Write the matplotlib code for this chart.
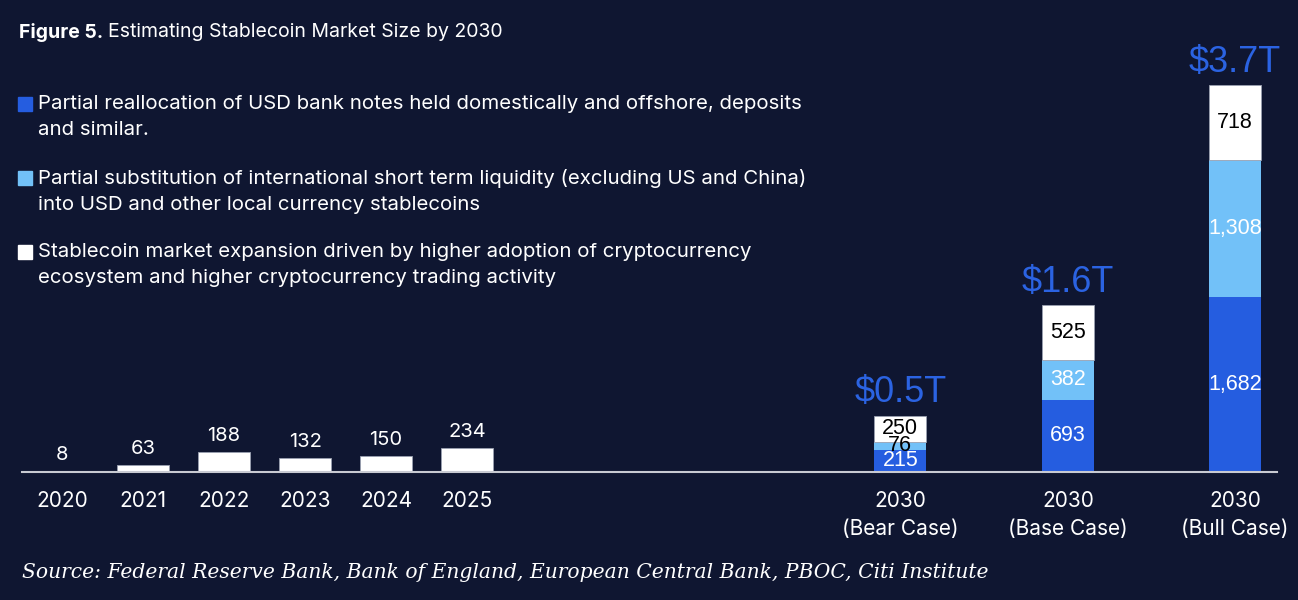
import numpy as np
import matplotlib.pyplot as plt
from matplotlib.patches import Rectangle

# historical stablecoin market size ($bn)
years = ['2020', '2021', '2022', '2023', '2024', '2025']
hist_values = [8, 63, 188, 132, 150, 234]

# 2030 scenarios ($bn)
cases = ['2030\n(Bear Case)', '2030\n(Base Case)', '2030\n(Bull Case)']
bank_notes = [215, 693, 1682]
short_term = [76, 382, 1308]
crypto_exp = [250, 525, 718]
totals = ['$0.5T', '$1.6T', '$3.7T']

legend_labels = [
    'Partial reallocation of USD bank notes held domestically and offshore, deposits\nand similar.',
    'Partial substitution of international short term liquidity (excluding US and China)\ninto USD and other local currency stablecoins',
    'Stablecoin market expansion driven by higher adoption of cryptocurrency\necosystem and higher cryptocurrency trading activity',
]

BG = '#0f1631'
DARK = '#255de0'
LIGHT = '#72c1f8'
WHITE = '#ffffff'
TOTAL_C = '#2b63e2'
SANS = 'Inter'
NUM = 'Liberation Sans'

fig = plt.figure(figsize=(12.98, 6.0), dpi=100, facecolor=BG)
ax = fig.add_axes([22 / 1298, 128 / 600, 1255 / 1298, 417 / 600])
ax.set_facecolor(BG)

x_hist = np.arange(len(years))
x_case = np.array([10.35, 12.42, 14.48])
w = 0.64

b = ax.bar(x_hist, hist_values, w, color=WHITE, edgecolor='#9aa0b0', linewidth=0.6)
for rect, v in zip(b, hist_values):
    ax.annotate(str(v), (rect.get_x() + rect.get_width() / 2, rect.get_height()),
                xytext=(0, 5), textcoords='offset points', ha='center', va='bottom',
                color='white', fontsize=14.5, family=SANS)

b1 = ax.bar(x_case, bank_notes, w, color=DARK)
b2 = ax.bar(x_case, short_term, w, bottom=bank_notes, color=LIGHT)
bottom3 = np.array(bank_notes) + np.array(short_term)
b3 = ax.bar(x_case, crypto_exp, w, bottom=bottom3, color=WHITE, edgecolor='#9aa0b0', linewidth=0.6)

for i, xc in enumerate(x_case):
    segs = [(bank_notes[i], 0, 'white'),
            (short_term[i], bank_notes[i], 'black' if i == 0 else 'white'),
            (crypto_exp[i], bottom3[i], 'black')]
    for val, base, col in segs:
        ax.text(xc, base + val / 2, f'{val:,}', ha='center', va='center',
                color=col, fontsize=15.5, family=NUM)
    top = bottom3[i] + crypto_exp[i]
    ax.annotate(totals[i], (xc, top), xytext=(0, 4), textcoords='offset points',
                ha='center', va='bottom', color=TOTAL_C, fontsize=26, family=NUM)

ax.set_xlim(-0.494, 15.0)
ax.set_ylim(0, 4000)
ax.set_xticks(list(x_hist) + list(x_case))
ax.set_xticklabels(years + cases, color='white', fontsize=15, family=SANS,
                   linespacing=1.45, va='top')
ax.tick_params(axis='x', length=0, pad=14)
ax.set_yticks([])
for s in ['top', 'right', 'left']:
    ax.spines[s].set_visible(False)
ax.spines['bottom'].set_color('#c8cad2')
ax.spines['bottom'].set_linewidth(1.5)

# title: bold prefix + regular text
renderer = fig.canvas.get_renderer()
t1 = fig.text(19 / 1298, 1 - 32 / 600, 'Figure 5.', fontsize=14, fontweight='bold',
              color='white', family=SANS, va='center')
bb = t1.get_window_extent(renderer)
fig.text(bb.x1 / 1298 + 5 / 1298, 1 - 32 / 600, 'Estimating Stablecoin Market Size by 2030',
         fontsize=14, color='white', family=SANS, va='center')

# legend
for lab, col, ytop in zip(legend_labels, [DARK, LIGHT, WHITE], [97, 171, 245]):
    fig.patches.append(Rectangle((18 / 1298, 1 - (ytop + 14) / 600), 14 / 1298, 14 / 600,
                                 transform=fig.transFigure, color=col))
    fig.text(38 / 1298, 1 - (ytop - 2) / 600, lab, fontsize=14.7, color='white',
             family=SANS, va='top', linespacing=1.58)

fig.text(22 / 1298, 1 - 572 / 600,
         'Source: Federal Reserve Bank, Bank of England, European Central Bank, PBOC, Citi Institute',
         fontsize=14.6, style='italic', color='white', family='DejaVu Serif', va='center')

fig.savefig('out.png', dpi=100, facecolor=BG)
